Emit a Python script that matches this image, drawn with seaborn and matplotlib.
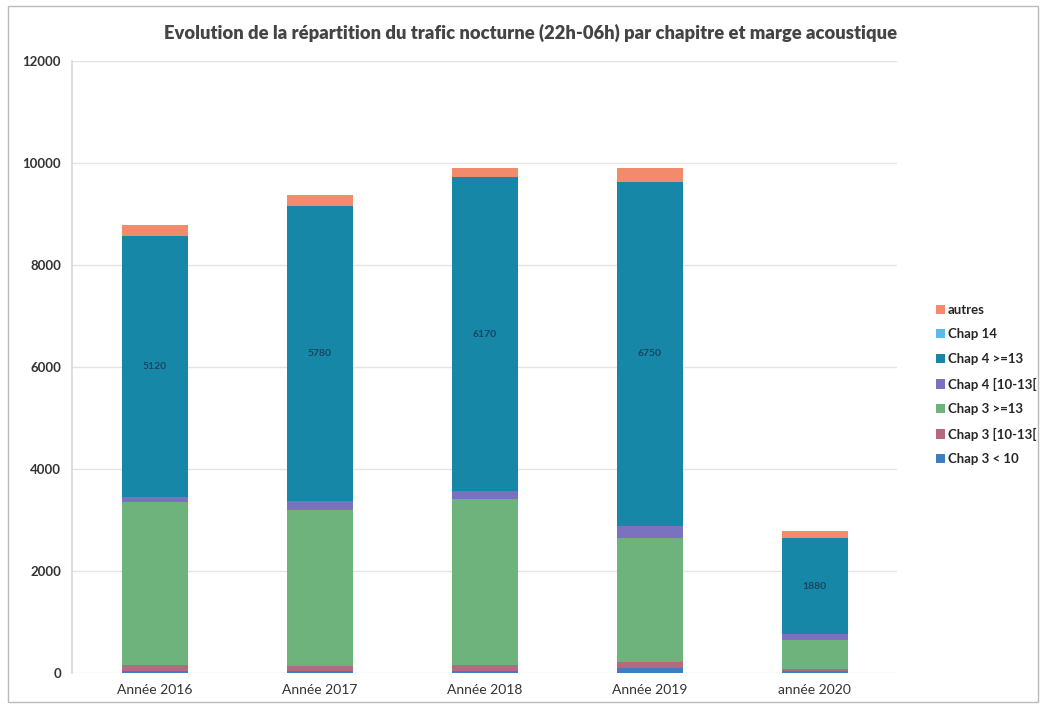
import matplotlib
matplotlib.use("Agg")
import matplotlib.pyplot as plt
from matplotlib.patches import Rectangle, Patch
import numpy as np
import pandas as pd
import seaborn as sns

# Night traffic (22h-06h) by ICAO chapter and acoustic margin
years = ["Année 2016", "Année 2017", "Année 2018", "Année 2019", "année 2020"]

chap3_lt10 = [40, 40, 40, 90, 30]
chap3_10_13 = [110, 100, 110, 120, 50]
chap3_ge13 = [3200, 3060, 3270, 2440, 570]
chap4_10_13 = [100, 180, 140, 230, 110]
chap4_ge13 = [5120, 5780, 6170, 6750, 1880]
chap14 = [0, 0, 0, 0, 0]
autres = [210, 220, 170, 270, 150]

series_names = ["Chap 3 < 10", "Chap 3 [10-13[", "Chap 3 >=13", "Chap 4 [10-13[",
                "Chap 4 >=13", "Chap 14", "autres"]
series_values = [chap3_lt10, chap3_10_13, chap3_ge13, chap4_10_13,
                 chap4_ge13, chap14, autres]
colors = ["#3D7EBF", "#B5697E", "#6FB37C", "#7A72BE",
          "#1787A8", "#5CB9EC", "#F28A6C"]

sns.set_theme(style="white")
plt.rcParams["font.family"] = ["Lato", "DejaVu Sans"]

fig = plt.figure(figsize=(10.45, 7.06), dpi=100)
ax = fig.add_axes([72 / 1045, 1 - 673 / 706, (897 - 72) / 1045, (673 - 61) / 706])

bottom = np.zeros(len(years))
for name, vals, col in zip(series_names, series_values, colors):
    df = pd.DataFrame({"year": years, "value": vals})
    sns.barplot(data=df, x="year", y="value", order=years, color=col,
                width=0.4, errorbar=None, bottom=bottom, ax=ax,
                saturation=1, linewidth=0)
    if name == "Chap 4 >=13":
        for i, v in enumerate(vals):
            ax.text(i, bottom[i] + v / 2, f"{v}", ha="center", va="center",
                    fontsize=7.5, color="#1B4560", fontweight="bold")
    bottom = bottom + np.array(vals)

ax.set_ylim(0, 12000)
ax.set_xlim(-0.5, 4.5)
ax.set_yticks(np.arange(0, 12001, 2000))
ax.yaxis.grid(True, color="#E4E4E4", linewidth=1)
ax.set_axisbelow(True)
for s in ["top", "right", "bottom"]:
    ax.spines[s].set_visible(False)
ax.spines["left"].set_color("#D9D9D9")
ax.set_xlabel("")
ax.set_ylabel("")
ax.tick_params(axis="y", labelsize=9.5, colors="#333333", length=0, pad=8)
ax.tick_params(axis="x", labelsize=10, colors="#333333", length=0, pad=8)
for lbl in ax.get_yticklabels():
    lbl.set_fontweight("bold")

fig.text(531 / 1045, 1 - 33 / 706,
         "Evolution de la répartition du trafic nocturne (22h-06h) par chapitre et marge acoustique",
         ha="center", va="center", fontsize=13.2, fontweight="heavy", color="#444444")

handles = [Patch(facecolor=c, edgecolor="none", label=n)
           for n, c in zip(series_names, colors)][::-1]
fig.legend(handles=handles, loc="upper left",
           bbox_to_anchor=(924 / 1045, 1 - 292 / 706), frameon=False,
           handlelength=0.7, handleheight=0.7, handletextpad=0.2,
           labelspacing=0.95, prop={"weight": "bold", "size": 9.5})

fig.add_artist(Rectangle((8 / 1045, 4 / 706), 1030 / 1045, 696 / 706,
                         transform=fig.transFigure, fill=False,
                         edgecolor="#BBBBBB", linewidth=1))

fig.savefig("out.png", dpi=100)
